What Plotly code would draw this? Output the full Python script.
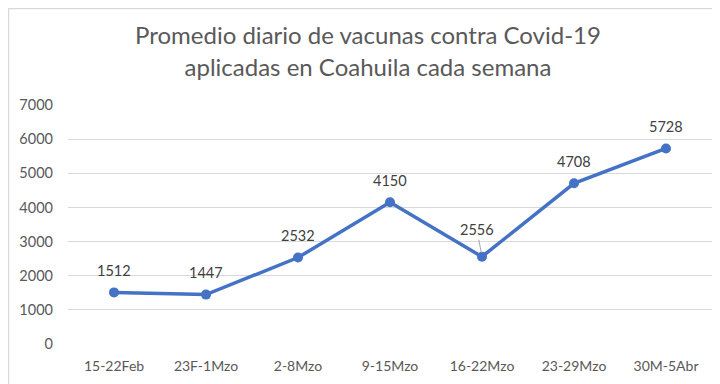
import plotly.graph_objects as go

categories = ["15-22Feb", "23F-1Mzo", "2-8Mzo", "9-15Mzo", "16-22Mzo", "23-29Mzo", "30M-5Abr"]
values = [1512, 1447, 2532, 4150, 2556, 4708, 5728]
title_text = "Promedio diario de vacunas contra Covid-19<br>aplicadas en Coahuila cada semana"

FONT = "Lato, Open Sans, sans-serif"
GREY = "#595959"
LABEL = "#404040"
BLUE = "#4472C4"

fig = go.Figure()
fig.add_trace(go.Scatter(
    x=categories, y=values, mode="lines+markers",
    line=dict(color=BLUE, width=3.5),
    marker=dict(color=BLUE, size=10),
    cliponaxis=False, hoverinfo="skip",
))

for c, v in zip(categories, values):
    if c == "16-22Mzo":
        fig.add_annotation(
            x=c, y=v, text=str(v),
            showarrow=True, arrowhead=0, arrowwidth=1, arrowcolor="#A6A6A6",
            ax=-5, ay=-27, standoff=4,
            font=dict(family=FONT, size=14.5, color=LABEL),
        )
    else:
        fig.add_annotation(
            x=c, y=v, text=str(v), showarrow=False, yshift=22,
            font=dict(family=FONT, size=14.5, color=LABEL),
        )

fig.update_layout(
    width=712, height=376,
    margin=dict(l=60, r=8, t=97, b=40),
    paper_bgcolor="white", plot_bgcolor="white",
    showlegend=False,
    title=dict(text=title_text, xref="container", x=0.5056, xanchor="center",
               yref="container", y=0.903, yanchor="top",
               font=dict(family=FONT, size=24, color=GREY)),
    xaxis=dict(type="category", range=[-0.5, 6.5], showgrid=False, zeroline=False,
               showline=False, ticks="", ticklabelstandoff=12,
               tickfont=dict(family=FONT, size=14, color=GREY)),
    yaxis=dict(range=[0, 7000], dtick=1000, showgrid=True, gridcolor="#D9D9D9",
               gridwidth=1, zeroline=False, showline=False, ticks="",
               ticklabelstandoff=14,
               tickfont=dict(family=FONT, size=14.5, color=GREY)),
    shapes=[dict(type="path", xref="paper", yref="paper",
                 path="M -0.0924,-0.2 L -0.0924,1.4038 L 1.0078,1.4038 L 1.0078,-0.2",
                 line=dict(color="#D9D9D9", width=1.5))],
)
fig.write_html("out.html")
